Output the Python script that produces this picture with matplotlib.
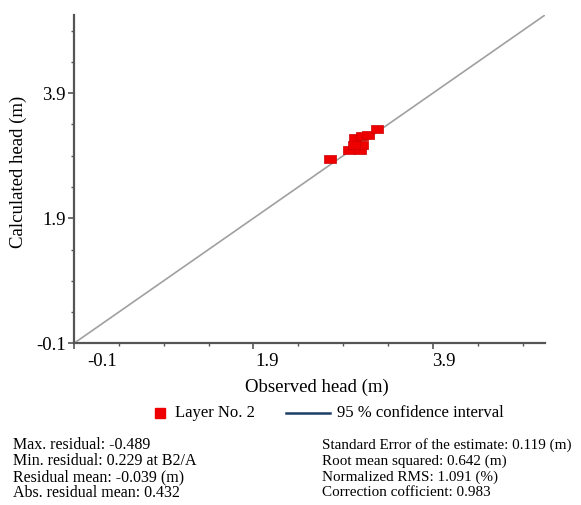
import matplotlib
matplotlib.use("Agg")
import matplotlib.pyplot as plt
from matplotlib.lines import Line2D
from matplotlib.transforms import ScaledTranslation
import numpy as np

plt.rcParams['font.family'] = ['Liberation Serif', 'DejaVu Serif']

# ---- data ----
observed = [2.75, 2.96, 3.09, 3.03, 3.11, 3.11, 3.18, 3.28, 3.02]
calculated = [2.84, 2.99, 2.99, 3.18, 3.21, 3.07, 3.23, 3.33, 3.07]
axis_min, axis_max = -0.1, 5.15
major_ticks = [-0.1, 1.9, 3.9]
minor_ticks = [0.4, 0.9, 1.4, 2.4, 2.9, 3.4, 4.4, 4.9]
tick_labels = ['-0.1', '1.9', '3.9']
legend_labels = ['Layer No. 2', '95 % confidence interval']
stats_left = ['Max. residual: -0.489',
              'Min. residual: 0.229 at B2/A',
              'Residual mean: -0.039 (m)',
              'Abs. residual mean: 0.432']
stats_right = ['Standard Error of the estimate: 0.119 (m)',
               'Root mean squared: 0.642 (m)',
               'Normalized RMS: 1.091 (%)',
               'Correction cofficient: 0.983']

W, H = 581, 505
fig = plt.figure(figsize=(W / 100, H / 100), dpi=100)

def fx(px):
    return px / W

def fy(py):
    return 1 - py / H

ax = fig.add_axes([fx(74), fy(343.3), (545 - 74) / W, (343.3 - 15) / H])
ax.set_xlim(axis_min, axis_max)
ax.set_ylim(axis_min, axis_max)

# 1:1 line
ax.plot([axis_min, axis_max], [axis_min, axis_max], color='#a0a0a0', lw=1.2, zorder=1)

# rectangle marker (wider than tall)
rect = [(-1, -0.68), (1, -0.68), (1, 0.68), (-1, 0.68), (-1, -0.68)]
ax.scatter(observed, calculated, marker=rect, s=80, color='#ee0000',
           edgecolors='#cc0000', linewidths=0.5, zorder=3)

for s in ['top', 'right']:
    ax.spines[s].set_visible(False)
for s in ['left', 'bottom']:
    ax.spines[s].set_color('#555555')
    ax.spines[s].set_linewidth(1.6)

ax.set_xticks(major_ticks)
ax.set_yticks(major_ticks)
ax.set_xticks(minor_ticks, minor=True)
ax.set_yticks(minor_ticks, minor=True)
ax.set_xticklabels(tick_labels)
ax.set_yticklabels(tick_labels)
ax.tick_params(which='major', length=4, width=1.2, color='#555555', labelsize=13.5, pad=3)
ax.tick_params(which='minor', length=2.5, width=1.0, color='#555555')
ax.tick_params(axis='y', which='major', pad=2)

# x tick labels: placed to the right of tick
offsets = [13, 2, -1]
for lab, off in zip(ax.get_xticklabels(), offsets):
    lab.set_horizontalalignment('left')
    lab.set_transform(lab.get_transform() + ScaledTranslation(off / 100, 0, fig.dpi_scale_trans))

# axis labels
fig.text(fx(317), fy(387), 'Observed head (m)', ha='center', va='center', fontsize=13.5)
fig.text(fx(18), fy(172), 'Calculated head (m)', ha='center', va='center',
         rotation=90, fontsize=13.5)

# legend (manual)
fig.add_artist(Line2D([fx(160)], [fy(413)], marker='s', markersize=7.5,
                      color='#ee0000', linestyle='none'))
fig.text(fx(175), fy(413), legend_labels[0], ha='left', va='center', fontsize=12)
fig.add_artist(Line2D([fx(286), fx(330)], [fy(413), fy(413)], color='#1d3f66', lw=1.8))
fig.text(fx(337), fy(413), legend_labels[1], ha='left', va='center', fontsize=12)

# stats
rows = [445, 461, 477, 493]
for t, r in zip(stats_left, rows):
    fig.text(fx(13), fy(r), t, ha='left', va='center', fontsize=11.5)
for t, r in zip(stats_right, rows):
    fig.text(fx(322), fy(r), t, ha='left', va='center', fontsize=10.9)

fig.savefig('out.png', dpi=100)
